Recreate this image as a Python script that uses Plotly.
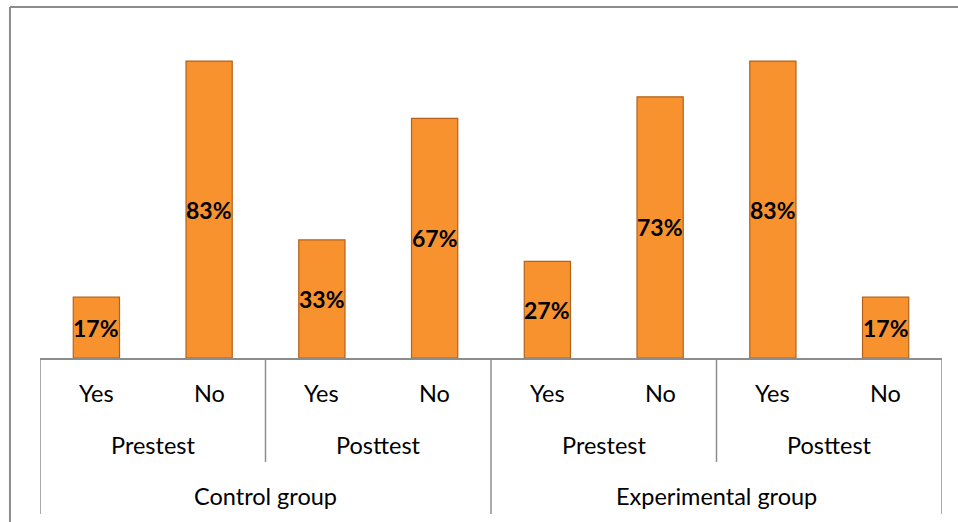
import plotly.graph_objects as go

groups = ["Control group"] * 4 + ["Experimental group"] * 4
tests = ["Prestest", "Prestest", "Posttest", "Posttest",
         "Prestest", "Prestest", "Posttest", "Posttest"]
answers = ["Yes", "No", "Yes", "No", "Yes", "No", "Yes", "No"]
values = [0.17, 0.83, 0.33, 0.67, 0.27, 0.73, 0.83, 0.17]

xs = list(range(len(values)))
FONT = "Lato, Calibri, Carlito, sans-serif"
LBL = 23.5

fig = go.Figure()
fig.add_trace(go.Bar(
    x=xs, y=values,
    marker=dict(color="#F7922F", line=dict(color="#B4621B", width=1.2)),
    hoverinfo="skip",
))

annotations = []
shapes = []
gray = "#8C8C8C"

# data labels, centred in bars
for i, v in enumerate(values):
    annotations.append(dict(x=i, y=v / 2, xref="x", yref="y", text="<b>%d%%</b>" % round(v * 100),
                            showarrow=False, yanchor="middle", xanchor="center",
                            font=dict(family=FONT, size=23, color="#000")))

for i, a in enumerate(answers):
    annotations.append(dict(x=i, y=-0.1087, xref="x", yref="paper", text=a,
                            showarrow=False, yanchor="middle",
                            font=dict(family=FONT, size=LBL, color="#000")))

test_keys = [g + "|" + t for g, t in zip(groups, tests)]
start = 0
test_runs = []
for i in range(1, len(test_keys) + 1):
    if i == len(test_keys) or test_keys[i] != test_keys[start]:
        test_runs.append((tests[start], start, i - 1))
        start = i
group_runs = []
start = 0
for i in range(1, len(groups) + 1):
    if i == len(groups) or groups[i] != groups[start]:
        group_runs.append((groups[start], start, i - 1))
        start = i

for name, s, e in test_runs:
    annotations.append(dict(x=(s + e) / 2, y=-0.270, xref="x", yref="paper", text=name,
                            showarrow=False, yanchor="middle",
                            font=dict(family=FONT, size=LBL, color="#000")))
for name, s, e in group_runs:
    annotations.append(dict(x=(s + e) / 2, y=-0.4286, xref="x", yref="paper", text=name,
                            showarrow=False, yanchor="middle",
                            font=dict(family=FONT, size=LBL, color="#000")))

group_bounds = sorted(set([s - 0.5 for _, s, _ in group_runs] + [e + 0.5 for _, _, e in group_runs]))
test_bounds = sorted(set([s - 0.5 for _, s, _ in test_runs] + [e + 0.5 for _, _, e in test_runs]) - set(group_bounds))
for b in group_bounds:
    shapes.append(dict(type="line", xref="x", yref="paper", x0=b, x1=b, y0=0, y1=-0.4845,
                       line=dict(color=gray, width=1.5)))
for b in test_bounds:
    shapes.append(dict(type="line", xref="x", yref="paper", x0=b, x1=b, y0=0, y1=-0.323,
                       line=dict(color=gray, width=1.5)))

shapes.append(dict(type="line", xref="paper", yref="paper", x0=-0.0333, x1=-0.0333, y0=1.0901, y1=-0.6,
                   line=dict(color=gray, width=2)))
shapes.append(dict(type="line", xref="paper", yref="paper", x0=-0.0333, x1=1.1, y0=1.0901, y1=1.0901,
                   line=dict(color=gray, width=2)))

fig.update_layout(
    width=958, height=522,
    margin=dict(l=40, r=16, t=36, b=164),
    paper_bgcolor="white", plot_bgcolor="white",
    showlegend=False,
    bargap=0.59,
    xaxis=dict(range=[-0.5, 7.5], showticklabels=False, ticks="", showgrid=False,
               zeroline=False, showline=True, linecolor=gray, linewidth=1.5),
    yaxis=dict(range=[0, 0.9], visible=False, showgrid=False, zeroline=False),
    annotations=annotations,
    shapes=shapes,
)

fig.write_html("out.html")
